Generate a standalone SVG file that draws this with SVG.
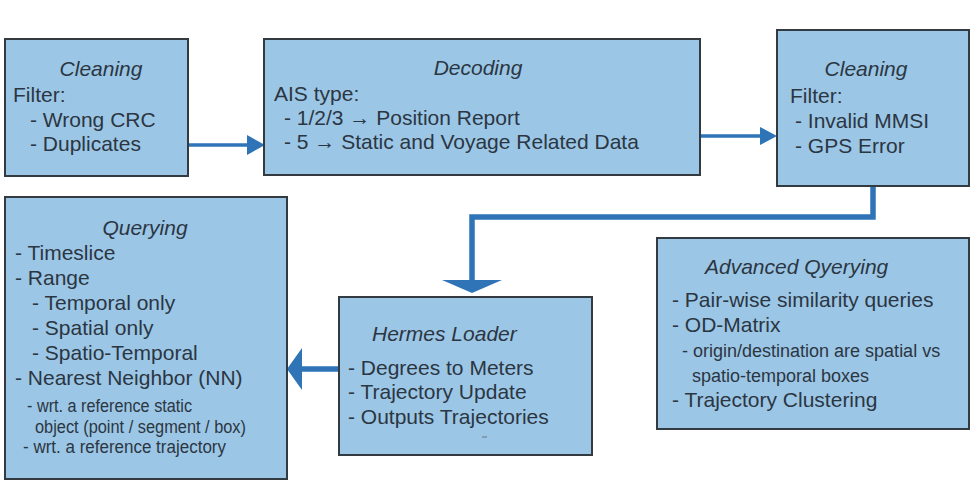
<svg xmlns="http://www.w3.org/2000/svg" width="973" height="480" viewBox="0 0 973 480">
<style>
.box{fill:#9cc6e5;stroke:#333a40;stroke-width:2}
text{font-family:"Liberation Sans",Arial,sans-serif;fill:#2b3643;font-size:21px}
.h{font-style:italic}
.m{text-anchor:middle}
.s{font-size:17.5px}
.s2{font-size:18px}
.conn{fill:none;stroke:#2e74b7;stroke-linejoin:miter}
.head{fill:#2e74b7}
</style>
<rect width="973" height="480" fill="#ffffff"/>
<g id="connectors">
<line class="conn" x1="188" y1="145" x2="248" y2="145" stroke-width="3.5"/>
<polygon class="head" points="265,145 247,135 247,155"/>
<line class="conn" x1="700" y1="136" x2="761" y2="136" stroke-width="3.5"/>
<polygon class="head" points="777,136 760,127 760,145"/>
<path class="conn" d="M873,186 V217 H472 V281" stroke-width="5.5"/>
<polygon class="head" points="442,280 502,280 472,293"/>
<line class="conn" x1="339" y1="369" x2="300" y2="369" stroke-width="5.5"/>
<polygon class="head" points="287,369 302,348 302,390"/>
</g>
<g id="cleaning1">
<rect class="box" x="5" y="39" width="183" height="137"/>
<text class="h m" x="101" y="76">Cleaning</text>
<text x="13" y="102">Filter:</text>
<text x="30" y="127">- Wrong CRC</text>
<text x="30" y="151">- Duplicates</text>
</g>
<g id="decoding">
<rect class="box" x="264" y="39" width="436" height="136"/>
<text class="h m" x="478" y="75">Decoding</text>
<text x="274" y="101">AIS type:</text>
<text x="284" y="125">- 1/2/3 → Position Report</text>
<text x="284" y="149">- 5 → Static and Voyage Related Data</text>
</g>
<g id="cleaning2">
<rect class="box" x="777" y="30" width="192" height="156"/>
<text class="h m" x="866" y="76">Cleaning</text>
<text x="790" y="103">Filter:</text>
<text x="795" y="128">- Invalid MMSI</text>
<text x="795" y="153">- GPS Error</text>
</g>
<g id="querying">
<rect class="box" x="5" y="197" width="282" height="282"/>
<text class="h m" x="145" y="235">Querying</text>
<text x="15" y="260">- Timeslice</text>
<text x="15" y="285">- Range</text>
<text x="32" y="310">- Temporal only</text>
<text x="32" y="335">- Spatial only</text>
<text x="32" y="360">- Spatio-Temporal</text>
<text x="15" y="385">- Nearest Neighbor (NN)</text>
<text class="s" x="27" y="412" textLength="165" lengthAdjust="spacingAndGlyphs">- wrt. a reference static</text>
<text class="s" x="35" y="433" textLength="211" lengthAdjust="spacingAndGlyphs">object (point / segment / box)</text>
<text class="s" x="23" y="453" textLength="203" lengthAdjust="spacingAndGlyphs">- wrt. a reference trajectory</text>
</g>
<g id="hermes-loader">
<rect class="box" x="339" y="297" width="253" height="158"/>
<text class="h" x="372" y="341">Hermes Loader</text>
<text x="348" y="375">- Degrees to Meters</text>
<text x="348" y="399">- Trajectory Update</text>
<text x="348" y="424">- Outputs Trajectories</text>
<line x1="482" y1="437" x2="487" y2="437" stroke="#6a7580" stroke-width="1"/>
</g>
<g id="advanced-querying">
<rect class="box" x="657" y="238" width="312" height="191"/>
<text class="h" x="705" y="274">Advanced Qyerying</text>
<text x="672" y="307">- Pair-wise similarity queries</text>
<text x="672" y="332">- OD-Matrix</text>
<text class="s2" x="682" y="357">- origin/destination are spatial vs</text>
<text class="s2" x="692" y="382">spatio-temporal boxes</text>
<text x="672" y="407">- Trajectory Clustering</text>
</g>
</svg>
